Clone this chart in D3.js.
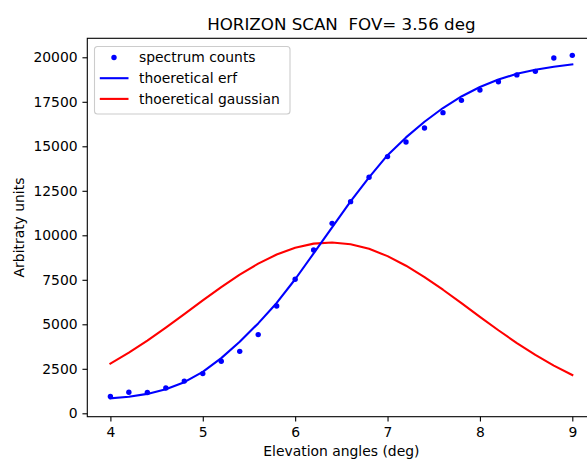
<!DOCTYPE html>
<html>
<head>
<meta charset="utf-8">
<script src="https://cdn.jsdelivr.net/npm/d3@7"></script>
<style>
  html, body { margin: 0; padding: 0; background: #ffffff; }
  svg { display: block; font-family: "DejaVu Sans", sans-serif; }
</style>
</head>
<body>
<div id="horizon-scan"></div>
<script>
// données
const angles = [4.0, 4.2, 4.4, 4.6, 4.8, 5.0, 5.2, 5.4, 5.6, 5.8, 6.0, 6.2, 6.4,
  6.6, 6.8, 7.0, 7.2, 7.4, 7.6, 7.8, 8.0, 8.2, 8.4, 8.6, 8.8, 9.0];
const spectrumCounts = [940, 1180, 1170, 1420, 1810, 2230, 2920, 3480, 4420, 6030,
  7530, 9170, 10670, 11890, 13260, 14420, 15240, 16030, 16890, 17580, 18160,
  18630, 19010, 19210, 19960, 20110];
const erfValues = [840, 930, 1090, 1350, 1750, 2330, 3100, 4020, 5050, 6200, 7530,
  8980, 10450, 11900, 13250, 14500, 15500, 16380, 17150, 17800, 18330, 18750,
  19070, 19300, 19470, 19600];
const gaussValues = [2794, 3409, 4087, 4813, 5573, 6340, 7088, 7788, 8408, 8921,
  9303, 9533, 9598, 9500, 9239, 8829, 8292, 7653, 6942, 6187, 5420, 4665, 3946,
  3282, 2680, 2151];
const xTicks = [4, 5, 6, 7, 8, 9];
const yTicks = [0, 2500, 5000, 7500, 10000, 12500, 15000, 17500, 20000];
const legendLabels = ["spectrum counts", "thoeretical erf", "thoeretical gaussian"];

const graphCfg = {
  target: "#horizon-scan",
  title: "HORIZON SCAN  FOV= 3.56 deg",
  xLabel: "Elevation angles (deg)",
  yLabel: "Arbitraty units",
};

//---------------------------------------------------------------------------------------

// Création du canevas SVG

const width = 587;
const height = 459;
const plot = { left: 87.3, right: 595.4, top: 38.3, bottom: 416.7 };
const fontSize = 13.9;
const tickLen = 4.86;

const svg = d3
  .select(graphCfg.target)
  .append("svg")
  .attr("width", width)
  .attr("height", height);

// échelles
const x = d3.scaleLinear().domain([3.75, 9.25]).range([plot.left, plot.right]);
const y = d3.scaleLinear().domain([-191, 21067]).range([plot.bottom, plot.top]);

//---------------------------------------------------------------------------------------

// Courbes et points

const line = d3.line().x((d, i) => x(angles[i])).y(d => y(d));

svg.append("path")
  .datum(gaussValues)
  .attr("d", line)
  .attr("fill", "none")
  .attr("stroke", "#ff0000")
  .attr("stroke-width", 2.1)
  .attr("stroke-linejoin", "round")
  .attr("stroke-linecap", "square");

svg.append("path")
  .datum(erfValues)
  .attr("d", line)
  .attr("fill", "none")
  .attr("stroke", "#0000ff")
  .attr("stroke-width", 2.1)
  .attr("stroke-linejoin", "round")
  .attr("stroke-linecap", "square");

svg.append("g")
  .selectAll("circle")
  .data(spectrumCounts)
  .join("circle")
  .attr("cx", (d, i) => x(angles[i]))
  .attr("cy", d => y(d))
  .attr("r", 2.7)
  .attr("fill", "#0000ff");

//---------------------------------------------------------------------------------------

// Axes

const xAxis = svg.append("g")
  .attr("transform", `translate(0, ${plot.bottom})`)
  .call(d3.axisBottom(x).tickValues(xTicks).tickFormat(d3.format("d"))
    .tickSize(tickLen).tickPadding(tickLen).tickSizeOuter(0));

const yAxis = svg.append("g")
  .attr("transform", `translate(${plot.left}, 0)`)
  .call(d3.axisLeft(y).tickValues(yTicks).tickFormat(d3.format("d"))
    .tickSize(tickLen).tickPadding(tickLen).tickSizeOuter(0));

[xAxis, yAxis].forEach(ax => {
  ax.select(".domain").remove();
  ax.selectAll(".tick line").attr("stroke", "#000").attr("stroke-width", 1.1);
  ax.selectAll(".tick text")
    .attr("fill", "#000")
    .style("font-size", `${fontSize}px`)
    .style("font-family", "DejaVu Sans");
});
xAxis.selectAll(".tick text").attr("dy", "0.78em");

// cadre (spines)
svg.append("rect")
  .attr("x", plot.left)
  .attr("y", plot.top)
  .attr("width", plot.right - plot.left)
  .attr("height", plot.bottom - plot.top)
  .attr("fill", "none")
  .attr("stroke", "#000")
  .attr("stroke-width", 1.1);

//---------------------------------------------------------------------------------------

// Titraille

svg.append("text")
  .attr("x", (plot.left + plot.right) / 2)
  .attr("y", 30)
  .attr("text-anchor", "middle")
  .style("font-size", "16.7px")
  .style("white-space", "pre")
  .text(graphCfg.title);

svg.append("text")
  .attr("x", (plot.left + plot.right) / 2)
  .attr("y", 455.5)
  .attr("text-anchor", "middle")
  .style("font-size", `${fontSize}px`)
  .text(graphCfg.xLabel);

svg.append("text")
  .attr("transform", `translate(23.5, ${(plot.top + plot.bottom) / 2}) rotate(-90)`)
  .attr("text-anchor", "middle")
  .style("font-size", `${fontSize}px`)
  .text(graphCfg.yLabel);

//---------------------------------------------------------------------------------------

// Légende

const legend = svg.append("g").attr("transform", "translate(94.5, 46.5)");

legend.append("rect")
  .attr("width", 195.5)
  .attr("height", 67.5)
  .attr("rx", 3)
  .attr("fill", "#ffffff")
  .attr("fill-opacity", 0.8)
  .attr("stroke", "#cccccc")
  .attr("stroke-width", 1.1);

const rows = legend.selectAll("g.row")
  .data(legendLabels)
  .join("g")
  .attr("class", "row")
  .attr("transform", (d, i) => `translate(0, ${11 + i * 20.7})`);

rows.filter((d, i) => i === 0)
  .append("circle")
  .attr("cx", 19.5)
  .attr("cy", 0)
  .attr("r", 2.7)
  .attr("fill", "#0000ff");

rows.filter((d, i) => i > 0)
  .append("line")
  .attr("x1", 5.3)
  .attr("x2", 34)
  .attr("stroke", (d, i) => i === 0 ? "#0000ff" : "#ff0000")
  .attr("stroke-width", 2.1);

rows.append("text")
  .attr("x", 44.5)
  .attr("y", 4.8)
  .style("font-size", `${fontSize}px`)
  .text(d => d);
</script>
</body>
</html>
